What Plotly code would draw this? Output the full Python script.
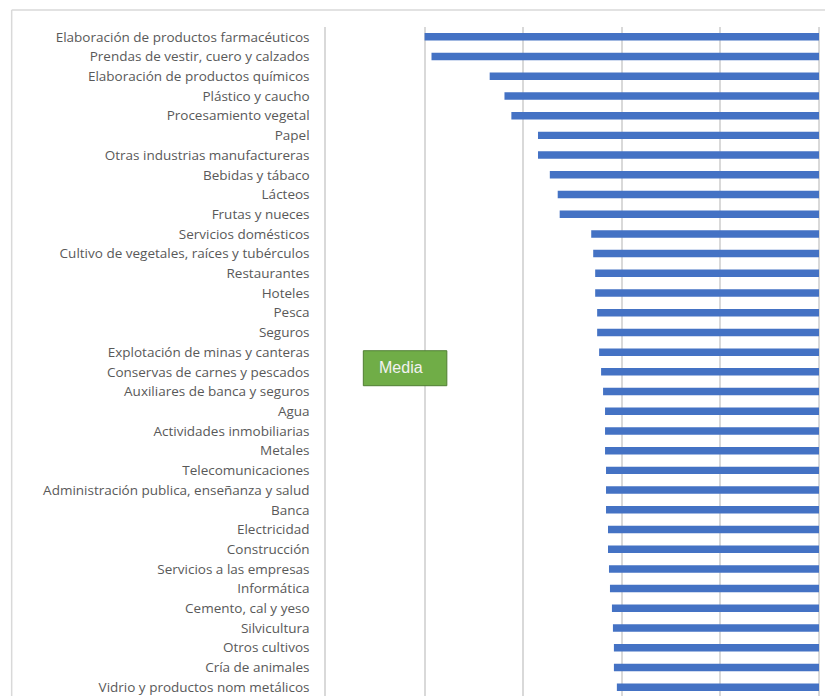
import plotly.graph_objects as go

# Sectors, top to bottom as in the chart
sectores = [
    "Elaboración de productos farmacéuticos",
    "Prendas de vestir, cuero y calzados",
    "Elaboración de productos químicos",
    "Plástico y caucho",
    "Procesamiento vegetal",
    "Papel",
    "Otras industrias manufactureras",
    "Bebidas y tábaco",
    "Lácteos",
    "Frutas y nueces",
    "Servicios domésticos",
    "Cultivo de vegetales, raíces y tubérculos",
    "Restaurantes",
    "Hoteles",
    "Pesca",
    "Seguros",
    "Explotación de minas y canteras",
    "Conservas de carnes y pescados",
    "Auxiliares de banca y seguros",
    "Agua",
    "Actividades inmobiliarias",
    "Metales",
    "Telecomunicaciones",
    "Administración publica, enseñanza y salud",
    "Banca",
    "Electricidad",
    "Construcción",
    "Servicios a las empresas",
    "Informática",
    "Cemento, cal y yeso",
    "Silvicultura",
    "Otros cultivos",
    "Cría de animales",
    "Vidrio y productos nom metálicos",
]

valores = [
    4.00, 3.93, 3.34, 3.19, 3.12, 2.85, 2.85, 2.73, 2.65, 2.63,
    2.31, 2.29, 2.27, 2.27, 2.25, 2.25, 2.23, 2.21, 2.19, 2.17,
    2.17, 2.17, 2.16, 2.16, 2.16, 2.14, 2.14, 2.13, 2.12, 2.10,
    2.09, 2.08, 2.08, 2.05,
]

grid = "#D9D9D9"

fig = go.Figure()
fig.add_trace(go.Bar(
    x=valores, y=sectores, orientation="h",
    marker=dict(color="#4472C4", line_width=0),
    width=0.38, showlegend=False,
))

# page body has an 8px margin, so the figure is sized/offset for that
fig.update_layout(
    width=825, height=688,
    margin=dict(l=318, r=14, t=19, b=0),
    plot_bgcolor="white", paper_bgcolor="white",
    font=dict(family="Open Sans", size=13.5, color="#595959"),
    showlegend=False,
)
fig.update_xaxes(
    range=[5, 0], dtick=1, showticklabels=False,
    showgrid=True, gridcolor=grid, gridwidth=1.5,
    zeroline=True, zerolinecolor=grid, zerolinewidth=1.5,
)
fig.update_yaxes(
    type="category", range=[len(sectores) - 1 + 0.45, -0.5],
    showgrid=False, showline=True, linecolor=grid, linewidth=1.5,
    ticks="", ticklabelstandoff=12,
)

# chart frame (top and left edges of the Excel chart box)
fig.add_shape(type="line", xref="paper", yref="paper",
              x0=-0.6376, x1=1.03, y0=1.0254, y1=1.0254,
              line=dict(color=grid, width=1.5))
fig.add_shape(type="line", xref="paper", yref="paper",
              x0=-0.6376, x1=-0.6376, y0=0, y1=1.0254,
              line=dict(color=grid, width=1.5))

# "Media" label box
fig.add_shape(type="rect", xref="paper", yref="paper",
              x0=0.0757, x1=0.2451, y0=0.4638, y1=0.5161,
              fillcolor="#70AD47", line=dict(color="#507E32", width=1))
fig.add_annotation(text="Media", xref="paper", yref="paper",
                   x=0.1029, y=0.4903, xanchor="left", yanchor="middle",
                   showarrow=False,
                   font=dict(family="Liberation Sans", size=16, color="#F2F2F2"))

fig.write_html("out.html")
